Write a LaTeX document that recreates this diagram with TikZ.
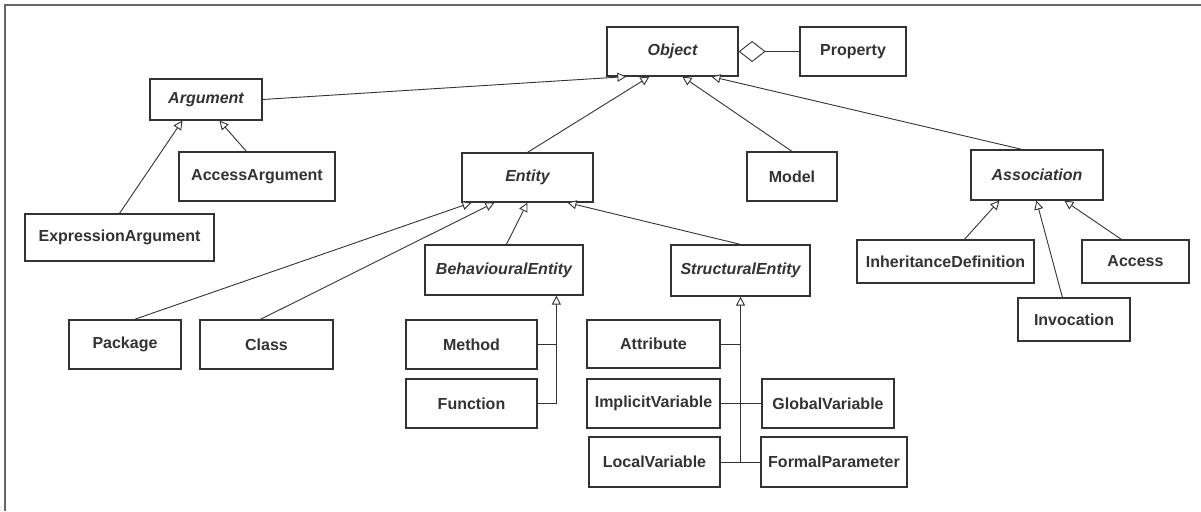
\documentclass[tikz,border=0pt]{standalone}
\usepackage{fontspec}
\setmainfont{Liberation Sans}
\usetikzlibrary{arrows.meta,calc}
\definecolor{ink}{HTML}{333333}
\definecolor{frame}{HTML}{666666}
\tikzset{
  box/.style={draw=ink, line width=1.2pt, fill=white, inner sep=0pt, text=ink,
    font=\fontsize{16}{19}\selectfont\bfseries},
  abs/.style={box, font=\fontsize{16}{19}\selectfont\bfseries\itshape},
  inh/.style={draw=ink, line width=0.9pt, -{Triangle[open, length=9pt, width=9pt, fill=white]}},
  agg/.style={draw=ink, line width=0.9pt, -{Diamond[open, length=27pt, width=21pt, fill=white]}},
  plain/.style={draw=ink, line width=0.9pt},
}
\begin{document}
\begin{tikzpicture}[x=1pt, y=-1pt]
\useasboundingbox (0,0) rectangle (1201,511);
\draw[frame, line width=1.6pt] (1201,5) -- (5,5) -- (5,511);

% nodes
\node[abs, minimum width=131pt, minimum height=49pt] (Object) at (672.5,51.5) {Object};
\node[box, minimum width=106pt, minimum height=49pt] (Property) at (853,51.5) {Property};
\node[abs, minimum width=112pt, minimum height=41pt] (Argument) at (206,99.5) {Argument};
\node[box, minimum width=156pt, minimum height=49pt] (AccessArgument) at (257,176.5) {AccessArgument};
\node[box, minimum width=189pt, minimum height=47pt] (ExpressionArgument) at (119.5,237.5) {ExpressionArgument};
\node[abs, minimum width=131pt, minimum height=49pt] (Entity) at (527.5,177.5) {Entity};
\node[box, minimum width=90pt, minimum height=49pt] (Model) at (792,176.5) {Model};
\node[abs, minimum width=132pt, minimum height=50pt] (Association) at (1037,175) {Association};
\node[box, minimum width=112pt, minimum height=49pt] (Package) at (125,344.5) {Package};
\node[box, minimum width=133pt, minimum height=49pt] (Class) at (266.5,344.5) {Class};
\node[abs, minimum width=158pt, minimum height=50pt] (BE) at (504,270) {BehaviouralEntity};
\node[abs, minimum width=139pt, minimum height=51pt] (SE) at (740.5,270.5) {StructuralEntity};
\node[box, minimum width=131pt, minimum height=49pt] (Method) at (471.5,344.5) {Method};
\node[box, minimum width=131pt, minimum height=49pt] (Function) at (471.5,403.5) {Function};
\node[box, minimum width=133pt, minimum height=48pt] (Attribute) at (653.5,344) {Attribute};
\node[box, minimum width=133pt, minimum height=49pt] (ImplicitVariable) at (653.5,403.5) {ImplicitVariable};
\node[box, minimum width=131pt, minimum height=50pt] (LocalVariable) at (654.5,462) {LocalVariable};
\node[box, minimum width=132pt, minimum height=49pt] (GlobalVariable) at (828,403.5) {GlobalVariable};
\node[box, minimum width=146pt, minimum height=50pt] (FormalParameter) at (834,462) {FormalParameter};
\node[box, minimum width=177pt, minimum height=43pt] (InheritanceDefinition) at (945.5,261.5) {InheritanceDefinition};
\node[box, minimum width=107pt, minimum height=43pt] (Access) at (1135.5,261.5) {Access};
\node[box, minimum width=112pt, minimum height=43pt] (Invocation) at (1074,319.5) {Invocation};

% aggregation
\draw[agg] (Property.west) -- (Object.east);

% Object generalisations
\draw[inh] (Argument.east) -- ([xshift=20pt]Object.south west);
\draw[inh] (Entity.north) -- ([xshift=43pt]Object.south west);
\draw[inh] (Model.north) -- ([xshift=76pt]Object.south west);
\draw[inh] ([xshift=-15pt]Association.north) -- ([xshift=105pt]Object.south west);

% Argument
\draw[inh] (ExpressionArgument.north) -- ([xshift=33pt]Argument.south west);
\draw[inh] ([xshift=68pt]AccessArgument.north west) -- ([xshift=70pt]Argument.south west);

% Entity
\draw[inh] ([xshift=66pt]Package.north west) -- ([xshift=10pt]Entity.south west);
\draw[inh] ([xshift=61pt]Class.north west) -- ([xshift=33pt]Entity.south west);
\draw[inh] ([xshift=82pt]BE.north west) -- ([xshift=66pt]Entity.south west);
\draw[inh] (SE.north) -- ([xshift=106pt]Entity.south west);

% BehaviouralEntity
\coordinate (bj) at ([xshift=132pt]BE.south west);
\draw[inh] (Function.east) -| (bj);
\draw[plain] (Method.east) -- (Method.east -| bj);

% StructuralEntity
\coordinate (sj) at (SE.south);
\draw[inh] (LocalVariable.east) -| (sj);
\draw[plain] (FormalParameter.west) -- (LocalVariable.east);
\draw[plain] (ImplicitVariable.east) -- (GlobalVariable.west);
\draw[plain] ([xshift=-2pt]Attribute.east) -- (Attribute.east -| sj);

% Association
\draw[inh] ([xshift=108pt]InheritanceDefinition.north west) -- ([xshift=29pt]Association.south west);
\draw[inh] ([xshift=45pt]Invocation.north west) -- ([xshift=66pt]Association.south west);
\draw[inh] ([xshift=40pt]Access.north west) -- ([xshift=94pt]Association.south west);
\end{tikzpicture}
\end{document}
